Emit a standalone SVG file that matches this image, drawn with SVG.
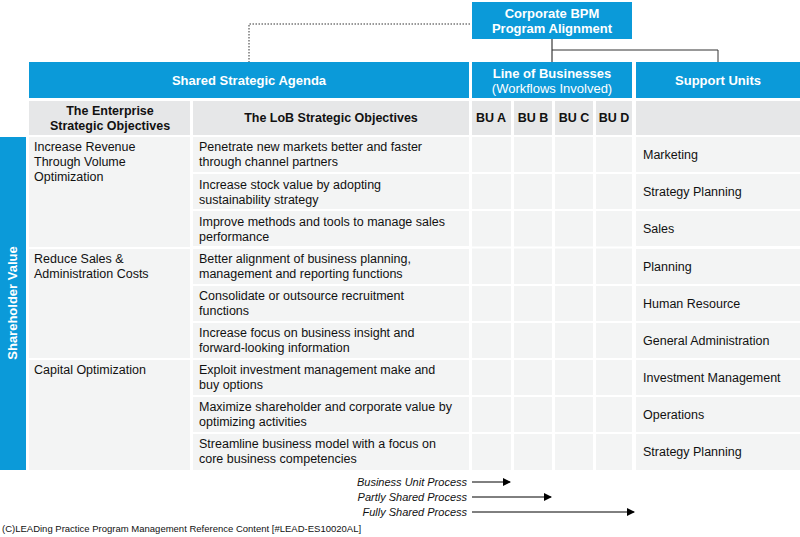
<svg xmlns="http://www.w3.org/2000/svg" width="800" height="537" viewBox="0 0 800 537">
<style>
.b{fill:#0b9ad9}.g{fill:#e6e7e8}.c{fill:#f3f4f4}
text{font-family:"Liberation Sans",Arial,sans-serif}
.h{fill:#fff;font-weight:bold;font-size:13px;text-anchor:middle}
.s{font-weight:bold;font-size:12.5px;fill:#111;text-anchor:middle}
.t{font-size:12.5px;fill:#111}
.l{font-size:11px;font-style:italic;fill:#111;text-anchor:end}
</style>
<defs><marker id="a" markerWidth="8" markerHeight="8" refX="7" refY="4" orient="auto" markerUnits="userSpaceOnUse"><path d="M0,0L8,4L0,8z" fill="#000"/></marker></defs>
<rect x="0" y="0" width="800" height="537" fill="#fff"/>
<g id="connectors">
<path d="M470,24H249V62" fill="none" stroke="#333" stroke-dasharray="1.5,1.5"/>
<path d="M552,39V62" stroke="#888" stroke-width="2"/>
<path d="M552,50H718V62" fill="none" stroke="#333"/>
<path d="M472,482H510" stroke="#000" marker-end="url(#a)"/>
<path d="M472,497H551" stroke="#000" marker-end="url(#a)"/>
<path d="M472,512H634" stroke="#000" marker-end="url(#a)"/>
</g>
<g id="corp"><rect class="b" x="472" y="2" width="160" height="37"/><text class="h" x="552" y="18">Corporate BPM</text><text class="h" x="552" y="33">Program Alignment</text></g>
<g id="header">
<rect class="b" x="29" y="62" width="440" height="36"/><text class="h" x="249" y="85">Shared Strategic Agenda</text>
<rect class="b" x="472" y="62" width="160" height="36"/><text class="h" x="552" y="78">Line of Businesses</text><text class="h" x="552" y="93" style="font-weight:normal">(Workflows Involved)</text>
<rect class="b" x="636" y="62" width="164" height="36"/><text class="h" x="718" y="85">Support Units</text>
</g>
<g id="subheader">
<rect class="g" x="29" y="101" width="161" height="34"/><text class="s" x="110" y="115">The Enterprise</text><text class="s" x="110" y="130">Strategic Objectives</text>
<rect class="g" x="193" y="101" width="276" height="34"/><text class="s" x="331" y="122">The LoB Strategic Objectives</text>
<rect class="g" x="472" y="101" width="39" height="34"/><text class="s" x="491" y="122">BU A</text>
<rect class="g" x="514" y="101" width="38" height="34"/><text class="s" x="533" y="122">BU B</text>
<rect class="g" x="555" y="101" width="38" height="34"/><text class="s" x="574" y="122">BU C</text>
<rect class="g" x="596" y="101" width="36" height="34"/><text class="s" x="614" y="122">BU D</text>
<rect class="g" x="636" y="101" width="164" height="34"/>
</g>
<g id="sv"><rect class="b" x="0" y="137" width="26" height="333"/><text class="h" transform="translate(17,303) rotate(-90)">Shareholder Value</text></g>
<g id="enterprise">
<rect class="c" x="29" y="137" width="161" height="110"/><text class="t" x="34" y="151">Increase Revenue</text><text class="t" x="34" y="166">Through Volume</text><text class="t" x="34" y="181">Optimization</text>
<rect class="c" x="29" y="249" width="161" height="109"/><text class="t" x="34" y="263">Reduce Sales &amp;</text><text class="t" x="34" y="278">Administration Costs</text>
<rect class="c" x="29" y="360" width="161" height="110"/><text class="t" x="34" y="374">Capital Optimization</text>
</g>
<g id="rows" fill="#f3f4f4">
<rect x="193" y="137" width="276" height="35"/><rect x="193" y="174" width="276" height="35"/><rect x="193" y="211" width="276" height="35"/>
<rect x="193" y="249" width="276" height="35"/><rect x="193" y="286" width="276" height="35"/><rect x="193" y="323" width="276" height="35"/>
<rect x="193" y="360" width="276" height="35"/><rect x="193" y="397" width="276" height="35"/><rect x="193" y="434" width="276" height="36"/>
<rect x="472" y="137" width="39" height="333"/><rect x="514" y="137" width="38" height="333"/><rect x="555" y="137" width="38" height="333"/><rect x="596" y="137" width="36" height="333"/>
<rect x="636" y="137" width="164" height="35"/><rect x="636" y="174" width="164" height="35"/><rect x="636" y="211" width="164" height="35"/>
<rect x="636" y="249" width="164" height="35"/><rect x="636" y="286" width="164" height="35"/><rect x="636" y="323" width="164" height="35"/>
<rect x="636" y="360" width="164" height="35"/><rect x="636" y="397" width="164" height="35"/><rect x="636" y="434" width="164" height="36"/>
<g stroke="#fff" stroke-width="2"><path d="M472,173H632M472,210H632M472,247.5H632M472,285H632M472,322H632M472,359H632M472,396H632M472,433H632"/></g>
</g>
<g id="lob">
<text class="t" x="199" y="151">Penetrate new markets better and faster</text><text class="t" x="199" y="166">through channel partners</text>
<text class="t" x="199" y="189">Increase stock value by adopting</text><text class="t" x="199" y="204">sustainability strategy</text>
<text class="t" x="199" y="226">Improve methods and tools to manage sales</text><text class="t" x="199" y="241">performance</text>
<text class="t" x="199" y="263">Better alignment of business planning,</text><text class="t" x="199" y="278">management and reporting functions</text>
<text class="t" x="199" y="300">Consolidate or outsource recruitment</text><text class="t" x="199" y="315">functions</text>
<text class="t" x="199" y="337">Increase focus on business insight and</text><text class="t" x="199" y="352">forward-looking information</text>
<text class="t" x="199" y="374">Exploit investment management make and</text><text class="t" x="199" y="389">buy options</text>
<text class="t" x="199" y="411">Maximize shareholder and corporate value by</text><text class="t" x="199" y="426">optimizing activities</text>
<text class="t" x="199" y="448">Streamline business model with a focus on</text><text class="t" x="199" y="463">core business competencies</text>
</g>
<g id="support">
<text class="t" x="643" y="159">Marketing</text><text class="t" x="643" y="196">Strategy Planning</text><text class="t" x="643" y="233">Sales</text>
<text class="t" x="643" y="271">Planning</text><text class="t" x="643" y="308">Human Resource</text><text class="t" x="643" y="345">General Administration</text>
<text class="t" x="643" y="382">Investment Management</text><text class="t" x="643" y="419">Operations</text><text class="t" x="643" y="456">Strategy Planning</text>
</g>
<g id="legend">
<text class="l" x="467" y="486">Business Unit Process</text>
<text class="l" x="467" y="501">Partly Shared Process</text>
<text class="l" x="467" y="516">Fully Shared Process</text>
</g>
<text x="2" y="532" style="font-size:9.5px;fill:#111">(C)LEADing Practice Program Management Reference Content [#LEAD-ES10020AL]</text>
</svg>
